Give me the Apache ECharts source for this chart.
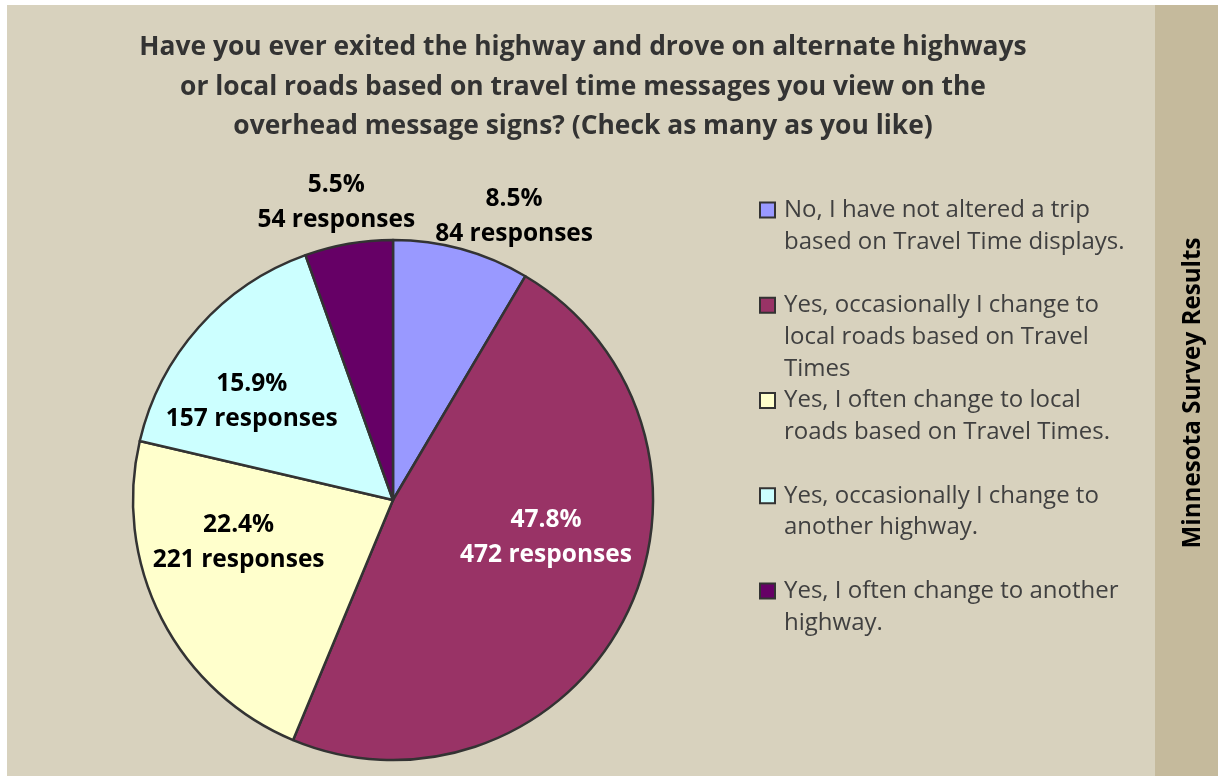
<!DOCTYPE html>
<html>
<head>
<meta charset="utf-8">
<script src="https://cdn.jsdelivr.net/npm/echarts@6/dist/echarts.min.js"></script>
<style>
  html, body { margin: 0; padding: 0; background: #fff; }
  #chart { position: absolute; left: 7px; top: 5px; width: 1211px; height: 771px; }
</style>
</head>
<body>
<div id="chart"></div>
<script>
// ── Data ──────────────────────────────────────────────────────────────────────
const categories = [
  'No, I have not altered a trip based on Travel Time displays.',
  'Yes, occasionally I change to local roads based on Travel Times',
  'Yes, I often change to local roads based on Travel Times.',
  'Yes, occasionally I change to another highway.',
  'Yes, I often change to another highway.'
];
// legend text as it wraps in the original
const legendLines = [
  ['No, I have not altered a trip', 'based on Travel Time displays.'],
  ['Yes, occasionally I change to', 'local roads based on Travel', 'Times'],
  ['Yes, I often change to local', 'roads based on Travel Times.'],
  ['Yes, occasionally I change to', 'another highway.'],
  ['Yes, I often change to another', 'highway.']
];
const responses = [84, 472, 221, 157, 54];

const titleText = 'Have you ever exited the highway and drove on alternate highways\n' +
  'or local roads based on travel time messages you view on the\n' +
  'overhead message signs? (Check as many as you like)';
const sideText = 'Minnesota Survey Results';

// ── Styling ───────────────────────────────────────────────────────────────────
const colors = ['#9999FF', '#993366', '#FFFFCC', '#CCFFFF', '#660066'];
const labelColors = ['#000', '#fff', '#000', '#000', '#000'];
// Excel put its labels in different spots than ECharts' "inside" anchor
const labelOffsets = [[86, -155], [34, -22], [-36, -18], [-42, -10], [-34, -166]];

const FONT = '"Open Sans", Lato, sans-serif';
const LINE = 31.75;
const total = responses.reduce((a, b) => a + b, 0);

const rich = {
  t:  { fontFamily: FONT, fontSize: 24, color: '#404040', lineHeight: LINE },
  g:  { width: 10, lineHeight: LINE },
  sp: { width: 23, lineHeight: LINE }
};
colors.forEach((c, i) => {
  rich['b' + i] = {
    width: 13, height: 13, backgroundColor: c,
    borderColor: '#333', borderWidth: 2, lineHeight: LINE
  };
});

function legendLabel(name) {
  const i = categories.indexOf(name);
  const lines = legendLines[i].slice();
  while (lines.length < 3) lines.push(' ');   // every entry takes three rows
  return lines.map((l, k) =>
    (k === 0 ? '{b' + i + '| }{g| }' : '{sp| }') + '{t|' + l + '}'
  ).join('\n');
}

const chart = echarts.init(document.getElementById('chart'));

chart.setOption({
  backgroundColor: '#D8D2BE',
  animation: false,
  title: {
    text: titleText,
    left: 571,
    top: 18,
    textAlign: 'center',
    textStyle: {
      fontFamily: FONT, fontSize: 26.4, fontWeight: 'bold',
      color: '#333', lineHeight: 39.5
    }
  },
  legend: {
    orient: 'vertical',
    left: 748,
    top: 193,
    padding: 0,
    itemGap: 7.75,
    itemWidth: 0,
    itemHeight: 0,
    selectedMode: false,
    data: categories,
    formatter: legendLabel,
    textStyle: { rich: rich }
  },
  graphic: [
    {
      type: 'rect', left: 1148, top: 0, z: -1,
      shape: { width: 63, height: 771 },
      style: { fill: '#C5BA9C' }
    },
    {
      type: 'text', x: 1186, y: 388, rotation: Math.PI / 2,
      style: {
        text: sideText, fontFamily: FONT, fontSize: 24.2, fontWeight: 'bold',
        fill: '#000', align: 'center', verticalAlign: 'middle'
      }
    }
  ],
  series: [{
    type: 'pie',
    center: [386, 495],
    radius: 260,
    startAngle: 90,
    clockwise: true,
    avoidLabelOverlap: false,
    itemStyle: { borderColor: '#333', borderWidth: 2.5 },
    emphasis: { disabled: true },
    labelLine: { show: false },
    data: categories.map((name, i) => ({
      name: name,
      value: responses[i],
      itemStyle: { color: colors[i] },
      label: { color: labelColors[i], offset: labelOffsets[i] }
    })),
    label: {
      show: true,
      position: 'inside',
      formatter: p => (p.value / total * 100).toFixed(1) + '%\n' + p.value + ' responses',
      fontFamily: FONT,
      fontSize: 24.5,
      fontWeight: 'bold',
      lineHeight: 35,
      align: 'center'
    }
  }]
});
</script>
</body>
</html>
